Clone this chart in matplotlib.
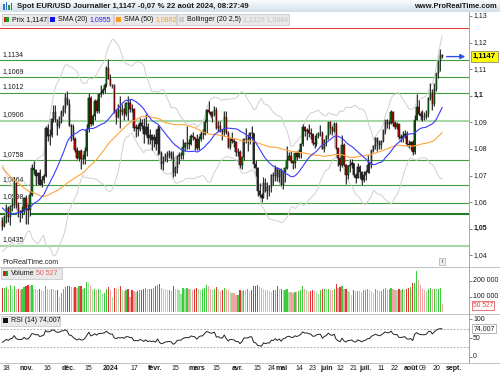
import numpy as np
import pandas as pd
import matplotlib
matplotlib.use("Agg")
import matplotlib.pyplot as plt
from matplotlib.patches import Rectangle
from matplotlib.colors import LinearSegmentedColormap
from matplotlib.transforms import blended_transform_factory, offset_copy

plt.rcParams['font.family'] = ['Liberation Sans', 'DejaVu Sans']

# ---------------- data ----------------
hist_closes = [1.0946, 1.1005, 1.1001, 1.0957, 1.0973, 1.0980, 1.0948, 1.0906, 1.0905, 1.0875,
               1.0873, 1.0871, 1.0894, 1.0846, 1.0861, 1.0808, 1.0796, 1.0817, 1.0880, 1.0922,
               1.0843, 1.0774, 1.0795, 1.0723, 1.0725, 1.0697, 1.0700, 1.0750, 1.0754, 1.0731,
               1.0642, 1.0657, 1.0689, 1.0678, 1.0661, 1.0659, 1.0645, 1.0592, 1.0571, 1.0502,
               1.0567, 1.0573, 1.0477, 1.0469, 1.0506, 1.0548, 1.0588, 1.0563, 1.0605, 1.0621,
               1.0530]

opens = [1.0530, 1.0511, 1.0543, 1.0576, 1.0545, 1.0585, 1.0594, 1.0670, 1.0589, 1.0565,
         1.0563, 1.0566, 1.0615, 1.0575, 1.0572, 1.0627, 1.0728, 1.0720, 1.0700, 1.0709,
         1.0665, 1.0684, 1.0700, 1.0877, 1.0848, 1.0852, 1.0913, 1.0939, 1.0910, 1.0888,
         1.0903, 1.0940, 1.0954, 1.0993, 1.0970, 1.0889, 1.0884, 1.0838, 1.0796, 1.0764,
         1.0793, 1.0761, 1.0763, 1.0794, 1.0876, 1.0992, 1.0895, 1.0922, 1.0980, 1.0941,
         1.1008, 1.1011, 1.1022, 1.1040, 1.1105, 1.1063, 1.1039, 1.1040, 1.0940, 1.0920,
         1.0947, 1.0940, 1.0951, 1.0930, 1.0973, 1.0972, 1.0951, 1.0950, 1.0878, 1.0883,
         1.0874, 1.0896, 1.0887, 1.0855, 1.0883, 1.0841, 1.0853, 1.0834, 1.0845, 1.0818,
         1.0873, 1.0786, 1.0743, 1.0755, 1.0775, 1.0778, 1.0784, 1.0771, 1.0708, 1.0727,
         1.0772, 1.0777, 1.0778, 1.0808, 1.0821, 1.0823, 1.0820, 1.0850, 1.0844, 1.0838,
         1.0804, 1.0837, 1.0855, 1.0856, 1.0901, 1.0947, 1.0938, 1.0926, 1.0927, 1.0948,
         1.0880, 1.0888, 1.0869, 1.0865, 1.0921, 1.0859, 1.0807, 1.0838, 1.0830, 1.0825,
         1.0789, 1.0790, 1.0740, 1.0768, 1.0836, 1.0836, 1.0837, 1.0859, 1.0858, 1.0743,
         1.0727, 1.0642, 1.0625, 1.0617, 1.0672, 1.0643, 1.0655, 1.0655, 1.0703, 1.0698,
         1.0730, 1.0693, 1.0719, 1.0665, 1.0714, 1.0727, 1.0760, 1.0772, 1.0753, 1.0747,
         1.0783, 1.0771, 1.0790, 1.0820, 1.0884, 1.0866, 1.0871, 1.0858, 1.0855, 1.0822,
         1.0820, 1.0847, 1.0858, 1.0858, 1.0801, 1.0833, 1.0848, 1.0902, 1.0877, 1.0868,
         1.0892, 1.0802, 1.0766, 1.0740, 1.0813, 1.0740, 1.0702, 1.0735, 1.0739, 1.0746,
         1.0701, 1.0692, 1.0733, 1.0714, 1.0683, 1.0703, 1.0713, 1.0740, 1.0743, 1.0792,
         1.0810, 1.0840, 1.0825, 1.0813, 1.0830, 1.0866, 1.0907, 1.0894, 1.0898, 1.0937,
         1.0898, 1.0884, 1.0892, 1.0844, 1.0841, 1.0848, 1.0856, 1.0820, 1.0816, 1.0825,
         1.0790, 1.0910, 1.0956, 1.0932, 1.0922, 1.0920, 1.0919, 1.0932, 1.0993, 1.1011,
         1.0969, 1.1026, 1.1086, 1.1130, 1.1152]

highs = [1.0545, 1.0551, 1.0594, 1.0587, 1.0588, 1.0616, 1.0695, 1.0674, 1.0599, 1.0570,
         1.0586, 1.0618, 1.0625, 1.0593, 1.0643, 1.0742, 1.0755, 1.0723, 1.0713, 1.0723,
         1.0697, 1.0707, 1.0887, 1.0895, 1.0873, 1.0916, 1.0965, 1.0966, 1.0914, 1.0924,
         1.0946, 1.0966, 1.1010, 1.1017, 1.0987, 1.0895, 1.0894, 1.0846, 1.0806, 1.0794,
         1.0800, 1.0781, 1.0806, 1.0895, 1.1009, 1.0998, 1.0932, 1.0986, 1.0987, 1.1012,
         1.1040, 1.1030, 1.1047, 1.1112, 1.1139, 1.1080, 1.1045, 1.1045, 1.0949, 1.0968,
         1.0999, 1.0969, 1.0955, 1.0976, 1.0999, 1.0986, 1.0968, 1.0955, 1.0894, 1.0892,
         1.0916, 1.0914, 1.0915, 1.0932, 1.0897, 1.0874, 1.0855, 1.0855, 1.0873, 1.0889,
         1.0887, 1.0792, 1.0772, 1.0785, 1.0794, 1.0796, 1.0792, 1.0794, 1.0737, 1.0770,
         1.0788, 1.0790, 1.0838, 1.0825, 1.0888, 1.0838, 1.0857, 1.0865, 1.0846, 1.0855,
         1.0848, 1.0868, 1.0873, 1.0913, 1.0951, 1.0981, 1.0943, 1.0941, 1.0963, 1.0956,
         1.0906, 1.0906, 1.0876, 1.0943, 1.0942, 1.0866, 1.0843, 1.0865, 1.0840, 1.0829,
         1.0804, 1.0795, 1.0771, 1.0840, 1.0877, 1.0852, 1.0862, 1.0885, 1.0860, 1.0759,
         1.0732, 1.0671, 1.0633, 1.0693, 1.0690, 1.0675, 1.0666, 1.0704, 1.0715, 1.0739,
         1.0731, 1.0723, 1.0730, 1.0718, 1.0731, 1.0812, 1.0790, 1.0791, 1.0759, 1.0783,
         1.0791, 1.0801, 1.0824, 1.0895, 1.0887, 1.0878, 1.0895, 1.0877, 1.0861, 1.0852,
         1.0858, 1.0864, 1.0889, 1.0867, 1.0838, 1.0852, 1.0900, 1.0906, 1.0885, 1.0902,
         1.0902, 1.0805, 1.0767, 1.0852, 1.0824, 1.0743, 1.0740, 1.0762, 1.0761, 1.0748,
         1.0709, 1.0746, 1.0740, 1.0718, 1.0716, 1.0719, 1.0776, 1.0749, 1.0799, 1.0815,
         1.0845, 1.0845, 1.0832, 1.0834, 1.0873, 1.0907, 1.0912, 1.0910, 1.0948, 1.0944,
         1.0904, 1.0902, 1.0894, 1.0856, 1.0868, 1.0872, 1.0866, 1.0833, 1.0830, 1.0832,
         1.0926, 1.1008, 1.0984, 1.0942, 1.0948, 1.0937, 1.0946, 1.0996, 1.1047, 1.1024,
         1.1048, 1.1087, 1.1134, 1.1174, 1.1158]

lows = [1.0496, 1.0505, 1.0523, 1.0525, 1.0515, 1.0566, 1.0576, 1.0577, 1.0543, 1.0524,
        1.0541, 1.0558, 1.0516, 1.0517, 1.0548, 1.0622, 1.0705, 1.0664, 1.0668, 1.0664,
        1.0656, 1.0673, 1.0694, 1.0828, 1.0813, 1.0845, 1.0902, 1.0902, 1.0852, 1.0880,
        1.0896, 1.0922, 1.0936, 1.0965, 1.0888, 1.0828, 1.0833, 1.0787, 1.0762, 1.0755,
        1.0723, 1.0743, 1.0743, 1.0773, 1.0865, 1.0887, 1.0890, 1.0910, 1.0935, 1.0935,
        1.0996, 1.1005, 1.1010, 1.1031, 1.1061, 1.1036, 1.1030, 1.0934, 1.0892, 1.0917,
        1.0877, 1.0926, 1.0908, 1.0924, 1.0910, 1.0938, 1.0940, 1.0867, 1.0844, 1.0850,
        1.0867, 1.0873, 1.0822, 1.0853, 1.0820, 1.0820, 1.0796, 1.0807, 1.0795, 1.0778,
        1.0780, 1.0723, 1.0722, 1.0755, 1.0750, 1.0765, 1.0763, 1.0695, 1.0697, 1.0711,
        1.0743, 1.0761, 1.0763, 1.0794, 1.0800, 1.0800, 1.0814, 1.0834, 1.0796, 1.0796,
        1.0795, 1.0830, 1.0838, 1.0852, 1.0860, 1.0934, 1.0920, 1.0900, 1.0922, 1.0876,
        1.0866, 1.0862, 1.0835, 1.0848, 1.0856, 1.0802, 1.0801, 1.0823, 1.0806, 1.0775,
        1.0774, 1.0729, 1.0724, 1.0757, 1.0822, 1.0791, 1.0820, 1.0837, 1.0728, 1.0698,
        1.0622, 1.0620, 1.0601, 1.0615, 1.0637, 1.0611, 1.0623, 1.0637, 1.0665, 1.0679,
        1.0681, 1.0676, 1.0660, 1.0650, 1.0677, 1.0724, 1.0757, 1.0748, 1.0724, 1.0728,
        1.0760, 1.0764, 1.0766, 1.0811, 1.0848, 1.0835, 1.0843, 1.0839, 1.0814, 1.0805,
        1.0812, 1.0840, 1.0847, 1.0800, 1.0789, 1.0811, 1.0836, 1.0855, 1.0853, 1.0862,
        1.0800, 1.0735, 1.0716, 1.0733, 1.0735, 1.0668, 1.0686, 1.0714, 1.0729, 1.0693,
        1.0671, 1.0690, 1.0692, 1.0666, 1.0677, 1.0684, 1.0710, 1.0709, 1.0727, 1.0788,
        1.0799, 1.0791, 1.0800, 1.0801, 1.0827, 1.0856, 1.0877, 1.0873, 1.0893, 1.0888,
        1.0874, 1.0875, 1.0838, 1.0826, 1.0826, 1.0841, 1.0810, 1.0802, 1.0795, 1.0777,
        1.0780, 1.0907, 1.0928, 1.0909, 1.0904, 1.0907, 1.0912, 1.0919, 1.0984, 1.0948,
        1.0962, 1.1017, 1.1067, 1.1092, 1.1140]

closes = [1.0511, 1.0543, 1.0576, 1.0545, 1.0585, 1.0594, 1.0670, 1.0589, 1.0565, 1.0563,
          1.0566, 1.0615, 1.0575, 1.0572, 1.0627, 1.0728, 1.0720, 1.0700, 1.0709, 1.0665,
          1.0684, 1.0700, 1.0877, 1.0848, 1.0852, 1.0913, 1.0939, 1.0910, 1.0888, 1.0903,
          1.0940, 1.0954, 1.0993, 1.0970, 1.0889, 1.0884, 1.0838, 1.0796, 1.0764, 1.0793,
          1.0761, 1.0763, 1.0794, 1.0876, 1.0992, 1.0895, 1.0922, 1.0980, 1.0941, 1.1008,
          1.1011, 1.1022, 1.1040, 1.1105, 1.1063, 1.1039, 1.1040, 1.0940, 1.0920, 1.0947,
          1.0940, 1.0951, 1.0930, 1.0973, 1.0972, 1.0951, 1.0950, 1.0878, 1.0883, 1.0874,
          1.0896, 1.0887, 1.0855, 1.0883, 1.0841, 1.0853, 1.0834, 1.0845, 1.0818, 1.0873,
          1.0786, 1.0743, 1.0755, 1.0775, 1.0778, 1.0784, 1.0771, 1.0708, 1.0727, 1.0772,
          1.0777, 1.0778, 1.0808, 1.0821, 1.0823, 1.0820, 1.0850, 1.0844, 1.0838, 1.0804,
          1.0837, 1.0855, 1.0856, 1.0901, 1.0947, 1.0938, 1.0926, 1.0927, 1.0948, 1.0880,
          1.0888, 1.0869, 1.0865, 1.0921, 1.0859, 1.0807, 1.0838, 1.0830, 1.0825, 1.0789,
          1.0790, 1.0740, 1.0768, 1.0836, 1.0836, 1.0837, 1.0859, 1.0858, 1.0743, 1.0727,
          1.0642, 1.0625, 1.0617, 1.0672, 1.0643, 1.0655, 1.0655, 1.0703, 1.0698, 1.0730,
          1.0693, 1.0719, 1.0665, 1.0714, 1.0727, 1.0760, 1.0772, 1.0753, 1.0747, 1.0783,
          1.0771, 1.0790, 1.0820, 1.0884, 1.0866, 1.0871, 1.0858, 1.0855, 1.0822, 1.0820,
          1.0847, 1.0858, 1.0858, 1.0801, 1.0833, 1.0848, 1.0902, 1.0877, 1.0868, 1.0892,
          1.0802, 1.0766, 1.0740, 1.0813, 1.0740, 1.0702, 1.0735, 1.0739, 1.0746, 1.0701,
          1.0692, 1.0733, 1.0714, 1.0683, 1.0703, 1.0713, 1.0740, 1.0743, 1.0792, 1.0810,
          1.0840, 1.0825, 1.0813, 1.0830, 1.0866, 1.0907, 1.0894, 1.0898, 1.0937, 1.0898,
          1.0884, 1.0892, 1.0844, 1.0841, 1.0848, 1.0856, 1.0820, 1.0816, 1.0825, 1.0790,
          1.0910, 1.0956, 1.0932, 1.0922, 1.0920, 1.0919, 1.0932, 1.0993, 1.1011, 1.0969,
          1.1026, 1.1086, 1.1130, 1.1152, 1.1147]

volumes_k = [155, 158, 160, 150, 172, 150, 170, 148, 152, 145,
             150, 160, 168, 172, 165, 175, 150, 148, 145, 152,
             140, 138, 170, 150, 145, 152, 148, 140, 142, 100,
             125, 150, 160, 165, 168, 162, 155, 160, 158, 165,
             170, 150, 155, 192, 185, 165, 148, 150, 145, 150,
             140, 118, 125, 150, 160, 145, 95, 158, 150, 148,
             165, 140, 138, 142, 150, 95, 140, 135, 132, 138,
             140, 145, 150, 155, 148, 150, 152, 155, 165, 175,
             180, 155, 150, 148, 140, 145, 138, 165, 150, 148,
             140, 120, 155, 150, 158, 152, 148, 145, 150, 155,
             150, 145, 148, 158, 175, 165, 150, 145, 148, 160,
             150, 138, 140, 155, 150, 140, 128, 125, 122, 108,
             110, 140, 138, 145, 140, 150, 138, 140, 165, 170,
             172, 160, 155, 150, 145, 140, 138, 128, 140, 145,
             170, 148, 150, 140, 145, 150, 130, 128, 125, 130,
             128, 135, 140, 170, 148, 140, 130, 135, 140, 138,
             130, 120, 145, 150, 152, 148, 150, 145, 140, 148,
             180, 155, 160, 165, 150, 150, 135, 130, 110, 140,
             135, 138, 135, 132, 140, 145, 150, 140, 138, 125,
             148, 140, 135, 138, 150, 155, 145, 150, 155, 150,
             145, 140, 148, 145, 150, 140, 150, 155, 160, 185,
             190, 266, 205, 175, 150, 140, 135, 150, 155, 150,
             152, 148, 150, 155, 50.527]

level_values = [1.1134, 1.1069, 1.1012, 1.0906, 1.0758, 1.0664, 1.0598, 1.0554, 1.0435]
level_labels = ["1,1134", "1,1069", "1,1012", "1,0906", "1,0758", "1,0664", "1,0598", "", "1,0435"]
red_level = 1.1253

price_ticks = [1.13, 1.12, 1.11, 1.10, 1.09, 1.08, 1.07, 1.06, 1.05, 1.04]
price_tick_labels = ["1,13", "1,12", "1,11", "1,1", "1,09", "1,08", "1,07", "1,06", "1,05", "1,04"]
vol_ticks = [200000, 100000]
vol_tick_labels = ["200 000", "100 000"]
rsi_ticks = [100, 50, 0]
rsi_tick_labels = ["100", "50", "0"]
rsi_zones = [75, 25]

x_tick_idx = [3, 13, 24, 35, 45, 56, 68, 79, 89, 100, 110, 121, 131, 138, 143,
              152, 159, 166, 173, 180, 186, 194, 201, 209, 215, 222, 231]
x_tick_labels = ["18", "nov.", "16", "déc.", "15", "2024", "17", "févr.", "15", "mars",
                 "15", "avr.", "15", "24", "mai", "14", "23", "juin", "12", "21",
                 "juil.", "11", "22", "août", "09", "20", "sept."]
x_tick_bold = [False, True, False, True, False, True, False, True, False, True,
               False, True, False, False, True, False, False, True, False, False,
               True, False, False, True, False, False, True]

# ---------------- indicators ----------------
all_c = pd.Series(hist_closes + closes)
nh = len(hist_closes)
sma20 = all_c.rolling(20).mean().values[nh:]
sma50 = all_c.rolling(50).mean().values[nh:]
std20 = all_c.rolling(20).std(ddof=0).values[nh:]
bb_up = sma20 + 2.5 * std20
bb_lo = sma20 - 2.5 * std20

d = np.diff(all_c.values)
gain = np.clip(d, 0, None)
loss = np.clip(-d, 0, None)
N = 14
ag = gain[:N].mean()
al = loss[:N].mean()
rsi_all = np.full(len(all_c), np.nan)
rsi_all[N] = 100 - 100 / (1 + ag / al)
for k in range(N, len(d)):
    ag = (ag * (N - 1) + gain[k]) / N
    al = (al * (N - 1) + loss[k]) / N
    rsi_all[k + 1] = 100 - 100 / (1 + ag / al)
rsi = rsi_all[nh:]

# ---------------- figure ----------------
W, H = 500, 375
fig = plt.figure(figsize=(W / 100, H / 100), dpi=100)
fig.patch.set_facecolor('white')


def fx(px):
    return px / W


def fy(py):
    return 1 - py / H


FS = 5.0
n = len(closes)
x = np.arange(n)
XL = (-1.25, 237.7)

# title bar
ax_t = fig.add_axes([0, fy(12), 1, 12 / H])
cm = LinearSegmentedColormap.from_list('g', ['#fbfdfe', '#d3e0ea'])
ax_t.imshow(np.linspace(0, 1, 30).reshape(-1, 1), aspect='auto', cmap=cm,
            extent=[0, 1, 0, 1], origin='upper')
ax_t.axis('off')
for bx, bh, c in [(3, 6, '#2a6fd0'), (5.5, 8, '#2a6fd0'), (8, 5, '#2a9a3a'), (10.5, 7, '#2a6fd0')]:
    fig.patches.append(Rectangle((fx(bx), fy(10)), 1.6 / W, bh / H, transform=fig.transFigure,
                                 facecolor=c, edgecolor='none'))
fig.text(fx(17), fy(6.2), "Spot EUR/USD Journalier 1,1147 -0,07 % 22 août 2024, 08:27:49",
         fontsize=5.55, fontweight='bold', color='#1a1a1a', va='center', ha='left')
fig.text(fx(497), fy(6.2), "www.ProRealTime.com", fontsize=5.4, fontweight='bold',
         color='#1a1a1a', va='center', ha='right')

# panels
ax_p = fig.add_axes([0, fy(266), 469 / W, (266 - 12) / H])
ax_v = fig.add_axes([0, fy(313), 469 / W, (313 - 267) / H])
ax_r = fig.add_axes([0, fy(362), 469 / W, (362 - 314) / H])
for a in (ax_p, ax_v, ax_r):
    a.set_xlim(*XL)
    for s in a.spines.values():
        s.set_visible(False)
    a.set_xticks([])
    a.tick_params(axis='y', which='both', left=False, right=True, labelleft=False,
                  labelright=False, length=2.3, width=0.5, color='#555555', direction='out')

ax_p.set_ylim(1.03598, 1.13147)
ax_v.set_ylim(-3822, 289172)
ax_r.set_ylim(-14.17, 114.17)
ax_p.set_yticks(price_ticks)
ax_v.set_yticks(vol_ticks)
ax_r.set_yticks(rsi_ticks)

# separators and right axis line
for yy in (266.5, 313.5, 362.5):
    fig.add_artist(plt.Line2D([0, 1], [fy(yy), fy(yy)], color='#b8b8b8', lw=0.6))
fig.add_artist(plt.Line2D([fx(469.3), fx(469.3)], [fy(12), fy(363)], color='#9a9a9a', lw=0.6))

# ---- price panel ----
lvl_style = {1.0906: ('#a6d8a6', 1.5), 1.0435: ('#a6d8a6', 1.5), 1.0554: ('#267a26', 1.5)}
for v, lab in zip(level_values, level_labels):
    c, lw = lvl_style.get(v, ('#3f9f3f', 0.8))
    ax_p.axhline(v, color=c, lw=lw, zorder=1)
    if lab:
        tr = offset_copy(blended_transform_factory(ax_p.transAxes, ax_p.transData), fig=fig,
                         x=1.5, y=4.3, units='points')
        ax_p.text(0, v, lab, transform=tr, fontsize=FS, color='#1a1a1a', va='center',
                  ha='left', zorder=1.5)
ax_p.axhline(red_level, color='#e03030', lw=0.7, zorder=1)

ax_p.plot(x, bb_up, color='#cfcfcf', lw=0.7, zorder=2)
ax_p.plot(x, bb_lo, color='#cfcfcf', lw=0.7, zorder=2)

o = np.array(opens)
c_ = np.array(closes)
hi = np.array(highs)
lo = np.array(lows)
up = c_ >= o
bot = np.minimum(o, c_)
hgt = np.maximum(np.abs(c_ - o), 0.00008)
# shadow
ax_p.vlines(x - 0.5, lo, hi, color='#c4c4c4', lw=0.8, zorder=2.5)
ax_p.bar(x - 0.5, hgt, bottom=bot, width=0.7, color='#c8c8c8', edgecolor='none', zorder=2.6)
ax_p.vlines(x, lo, hi, color='#111111', lw=0.6, zorder=3)
ax_p.bar(x, hgt, bottom=bot, width=0.62, color=np.where(up, '#0e7a0e', '#c00000'),
         edgecolor='#111111', linewidth=0.35, zorder=3.2)

ax_p.plot(x, sma50, color='#ffa53a', lw=0.8, zorder=4)
ax_p.plot(x, sma20, color='#3b3bff', lw=0.8, zorder=4)

ax_p.annotate('', xy=(235.8, closes[-1]), xytext=(226.3, closes[-1]),
              arrowprops=dict(arrowstyle='-|>', color='#3050e0', lw=1.0, mutation_scale=7,
                              shrinkA=0, shrinkB=0), annotation_clip=False, zorder=5)


def right_labels(ax, ticks, labels, bold=()):
    tr = offset_copy(blended_transform_factory(ax.transAxes, ax.transData), fig=fig,
                     x=3.0, y=0, units='points')
    for t, l in zip(ticks, labels):
        ax.text(1, t, l, transform=tr, fontsize=FS, color='#1a1a1a', va='center', ha='left',
                fontweight='bold' if l in bold else 'normal', clip_on=False)


right_labels(ax_p, price_ticks, price_tick_labels, bold=("1,1", "1,05"))
trp = offset_copy(blended_transform_factory(ax_p.transAxes, ax_p.transData), fig=fig,
                  x=2.5, y=0, units='points')
ax_p.text(1, closes[-1], "1,1147", transform=trp, fontsize=5.6, fontweight='bold',
          color='black', va='center', ha='left', clip_on=False, zorder=6,
          bbox=dict(boxstyle='square,pad=0.25', facecolor='#ffff00', edgecolor='#777777', lw=0.5))

fig.text(fx(2), fy(262), "ProRealTime.com", fontsize=FS, color='#222222', va='center', ha='left')
fig.patches.append(Rectangle((fx(439), fy(265)), 6 / W, 7 / H, transform=fig.transFigure,
                             facecolor='#f0f0f0', edgecolor='#999999', lw=0.4))
fig.text(fx(442), fy(261.5), "i", fontsize=4.5, color='#333333', va='center', ha='center')

# ---- volume ----
vols = np.array(volumes_k) * 1000
prev = np.concatenate([[vols[0]], vols[:-1]])
vcol = []
for k in range(n):
    strong = vols[k] >= prev[k]
    if up[k]:
        vcol.append('#3ccc3c' if strong else '#9fe29f')
    else:
        vcol.append('#e23434' if strong else '#f2a4a4')
ax_v.bar(x, vols, width=0.62, color=vcol, edgecolor='none', zorder=2)
right_labels(ax_v, vol_ticks, vol_tick_labels)
trv = offset_copy(blended_transform_factory(ax_v.transAxes, ax_v.transData), fig=fig,
                  x=3.0, y=-0.6, units='points')
ax_v.text(1, vols[-1], "50 527", transform=trv, fontsize=4.8, color='#e04040', va='center',
          ha='left', clip_on=False,
          bbox=dict(boxstyle='square,pad=0.12', facecolor='white', edgecolor='#e04040', lw=0.5))

# ---- RSI ----
for z in rsi_zones:
    ax_r.axhline(z, color='#9a9a9a', lw=0.6, ls=(0, (2, 2)), zorder=1)
ax_r.plot(x, rsi, color='#222222', lw=0.7, zorder=3)
right_labels(ax_r, rsi_ticks, rsi_tick_labels)
trr = offset_copy(blended_transform_factory(ax_r.transAxes, ax_r.transData), fig=fig,
                  x=3.0, y=0, units='points')
ax_r.text(1, rsi[-1], "74,007", transform=trr, fontsize=FS, color='#1a1a1a', va='center',
          ha='left', clip_on=False,
          bbox=dict(boxstyle='square,pad=0.15', facecolor='white', edgecolor='#999999', lw=0.5))

# x labels
trx = offset_copy(blended_transform_factory(ax_r.transData, fig.transFigure), fig=fig,
                  x=-1.4, y=0, units='points')
for i, l, b in zip(x_tick_idx, x_tick_labels, x_tick_bold):
    fig.text(i, fy(369), l, transform=trx, fontsize=FS, color='#1a1a1a', va='center',
             ha='center', fontweight='bold' if b else 'normal')

# ---- legend chips ----
renderer = fig.canvas.get_renderer()


def chip(x0, x1, y0, y1, icon, parts):
    fig.patches.append(Rectangle((fx(x0), fy(y1)), (x1 - x0) / W, (y1 - y0) / H,
                                 transform=fig.transFigure, facecolor='#e9e9e9',
                                 edgecolor='#c2c2c2', lw=0.5, zorder=10))
    yc = (y0 + y1) / 2
    if len(icon) == 2:
        fig.patches.append(Rectangle((fx(x0 + 2), fy(yc + 2.5)), 2.5 / W, 5 / H, transform=fig.transFigure,
                                     facecolor=icon[0], edgecolor='none', zorder=11))
        fig.patches.append(Rectangle((fx(x0 + 4.5), fy(yc + 2.5)), 2.5 / W, 5 / H, transform=fig.transFigure,
                                     facecolor=icon[1], edgecolor='none', zorder=11))
    else:
        fig.patches.append(Rectangle((fx(x0 + 2), fy(yc + 2.5)), 5 / W, 5 / H, transform=fig.transFigure,
                                     facecolor=icon[0], edgecolor='none', zorder=11))
    xp = x0 + 10
    for s, col in parts:
        t = fig.text(fx(xp), fy(yc), s, fontsize=FS, color=col, va='center', ha='left', zorder=12)
        bb = t.get_window_extent(renderer=renderer)
        xp += bb.width + 1.8


chip(1.5, 46.5, 14, 25, ('#d02020', '#20a020'), [("Prix 1,1147", '#111111')])
chip(48, 113, 14, 25, ('#1010ee',), [("SMA (20)", '#111111'), ("1,0955", '#2020ee')])
chip(114, 176, 14, 25, ('#ff9a20',), [("SMA (50)", '#111111'), ("1,0862", '#ff9a20')])
chip(177, 289, 14, 25, ('#cccccc',), [("Bollinger (20 2,5)", '#111111'), ("1,1226 1,0684", '#c4c4c4')])
chip(1, 62, 268, 278.5, ('#d02020', '#20a020'), [("Volume", '#111111'), ("50 527", '#e06060')])
chip(1, 60, 315.5, 326, ('#111111',), [("RSI (14) 74,007", '#111111')])

fig.savefig('out.png', dpi=100)
